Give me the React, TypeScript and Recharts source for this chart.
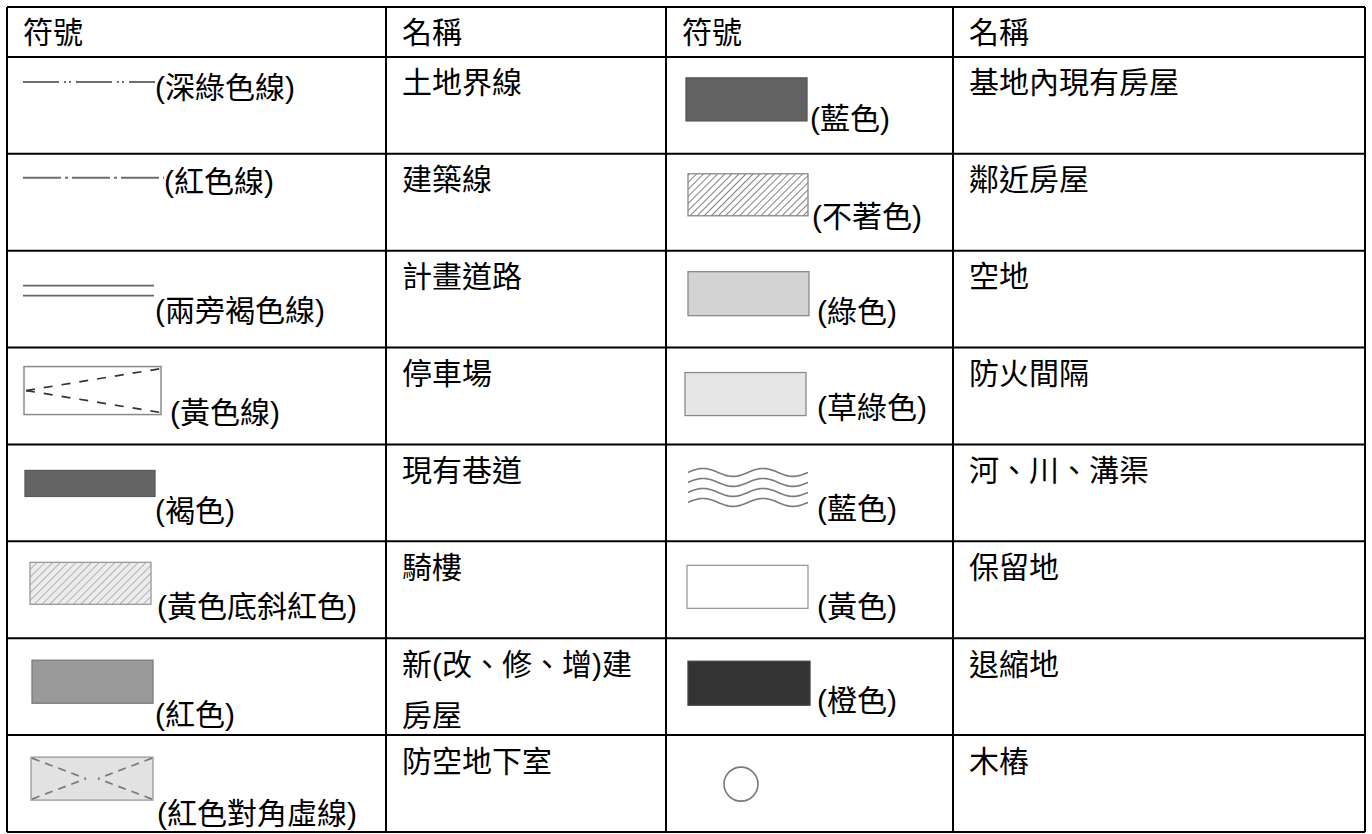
import React from 'react';
import { ScatterChart, Scatter, XAxis, YAxis, ReferenceLine } from 'recharts';

// table content
const headers = ['符號', '名稱', '符號', '名稱'];

const leftKinds = ['dashDotDot', 'dashDot', 'double', 'parking', 'bar', 'hatchLight', 'rectRed', 'crossDash'];
const leftNotes = ['(深綠色線)', '(紅色線)', '(兩旁褐色線)', '(黃色線)', '(褐色)', '(黃色底斜紅色)', '(紅色)', '(紅色對角虛線)'];
const leftNames = ['土地界線', '建築線', '計畫道路', '停車場', '現有巷道', '騎樓', '新(改、修、增)建\n房屋', '防空地下室'];

const rightKinds = ['rectBlue', 'hatchDark', 'rectGreen', 'rectGrass', 'waves', 'rectYellow', 'rectOrange', 'circle'];
const rightNotes = ['(藍色)', '(不著色)', '(綠色)', '(草綠色)', '(藍色)', '(黃色)', '(橙色)', ''];
const rightNames = ['基地內現有房屋', '鄰近房屋', '空地', '防火間隔', '河、川、溝渠', '保留地', '退縮地', '木樁'];

// layout
const W = 1372;
const H = 834;
const COL_EDGES = [0, 379, 659, 946, 1358];
const HEADER_ROWS = 0.515;
const ROWS = leftKinds.length;
const FONT = "'Liberation Sans', 'Noto Sans CJK TC', sans-serif";
const FS = 30;

type Geo = { x: number; y: number; w: number; h: number; nx: number; ny: number };
const GEO: Record<string, Geo> = {
  dashDotDot: { x: 16, y: 25, w: 132, h: 0, nx: 148, ny: 31 },
  dashDot: { x: 16, y: 24, w: 141, h: 0, nx: 157, ny: 28 },
  double: { x: 16, y: 35, w: 131, h: 10, nx: 148, ny: 60 },
  parking: { x: 17, y: 19, w: 137, h: 48, nx: 163, ny: 65 },
  bar: { x: 18, y: 26, w: 130, h: 26, nx: 148, ny: 66 },
  hatchLight: { x: 23, y: 21, w: 121, h: 42, nx: 150, ny: 65 },
  rectRed: { x: 25, y: 22, w: 121, h: 43, nx: 148, ny: 76 },
  crossDash: { x: 24, y: 22, w: 122, h: 43, nx: 150, ny: 78 },
  rectBlue: { x: 20, y: 21, w: 121, h: 43, nx: 144, ny: 62 },
  hatchDark: { x: 22, y: 20, w: 120, h: 42, nx: 146, ny: 63 },
  rectGreen: { x: 22, y: 21, w: 121, h: 44, nx: 151, ny: 61 },
  rectGrass: { x: 19, y: 25, w: 121, h: 43, nx: 151, ny: 60 },
  waves: { x: 22, y: 22, w: 121, h: 39, nx: 151, ny: 64 },
  rectYellow: { x: 21, y: 24, w: 121, h: 43, nx: 151, ny: 65 },
  rectOrange: { x: 22, y: 23, w: 122, h: 44, nx: 151, ny: 62 },
  circle: { x: 58, y: 32, w: 34, h: 34, nx: 0, ny: 0 },
};

const FILLS: Record<string, { fill: string; stroke: string }> = {
  bar: { fill: '#646464', stroke: '#5a5a5a' },
  rectRed: { fill: '#9a9a9a', stroke: '#7a7a7a' },
  rectBlue: { fill: '#626262', stroke: '#555' },
  rectGreen: { fill: '#d3d3d3', stroke: '#8a8a8a' },
  rectGrass: { fill: '#e6e6e6', stroke: '#8a8a8a' },
  rectYellow: { fill: '#ffffff', stroke: '#9a9a9a' },
  rectOrange: { fill: '#333333', stroke: '#444' },
};

const headerData = headers.map((text, i) => ({ x: COL_EDGES[i], y: -HEADER_ROWS, text }));
const symbolData = [
  ...leftKinds.map((kind, i) => ({ x: COL_EDGES[0], y: i, kind, note: leftNotes[i] })),
  ...rightKinds.map((kind, i) => ({ x: COL_EDGES[2], y: i, kind, note: rightNotes[i] })),
];
const nameData = [
  ...leftNames.map((text, i) => ({ x: COL_EDGES[1], y: i, text })),
  ...rightNames.map((text, i) => ({ x: COL_EDGES[3], y: i, text })),
];

const wavePath = (x: number, y: number, w: number) => {
  let d = '';
  for (let t = 0; t <= w; t += 2) {
    const yy = y - 4 * Math.sin((2 * Math.PI * t) / 60);
    d += (t === 0 ? 'M' : 'L') + (x + t).toFixed(1) + ',' + yy.toFixed(1);
  }
  return d;
};

const HeaderShape = (props: any) => {
  const { cx, cy, payload } = props;
  return (
    <text x={cx + 16} y={cy + 25} fontSize={FS} fontFamily={FONT} fill="#000" dominantBaseline="central">
      {payload.text}
    </text>
  );
};

const NameShape = (props: any) => {
  const { cx, cy, payload } = props;
  const lines = String(payload.text).split('\n');
  return (
    <g>
      {lines.map((ln, i) => (
        <text key={i} x={cx + 16} y={cy + 26 + i * 51} fontSize={FS} fontFamily={FONT} fill="#000" dominantBaseline="central">
          {ln}
        </text>
      ))}
    </g>
  );
};

const SymbolShape = (props: any) => {
  const { cx, cy, payload } = props;
  const g = GEO[payload.kind];
  const x = cx + g.x;
  const y = cy + g.y;
  let mark: React.ReactNode = null;

  switch (payload.kind) {
    case 'dashDotDot':
      mark = <line x1={x} y1={y} x2={x + g.w} y2={y} stroke="#6e6e6e" strokeWidth={2} strokeDasharray="36 5 2 3 2 5" />;
      break;
    case 'dashDot':
      mark = <line x1={x} y1={y} x2={x + g.w} y2={y} stroke="#6e6e6e" strokeWidth={2} strokeDasharray="38 4 3 4" />;
      break;
    case 'double':
      mark = (
        <g stroke="#666" strokeWidth={1.6}>
          <line x1={x} y1={y} x2={x + g.w} y2={y} />
          <line x1={x} y1={y + g.h} x2={x + g.w} y2={y + g.h} />
        </g>
      );
      break;
    case 'parking':
      mark = (
        <g>
          <rect x={x} y={y} width={g.w} height={g.h} fill="#fff" stroke="#8a8a8a" strokeWidth={1.5} />
          <g stroke="#333" strokeWidth={1.7} strokeDasharray="9 9">
            <line x1={x + 2} y1={y + g.h / 2} x2={x + g.w} y2={y + 2} />
            <line x1={x + 2} y1={y + g.h / 2} x2={x + g.w} y2={y + g.h - 2} />
          </g>
        </g>
      );
      break;
    case 'hatchLight':
    case 'hatchDark': {
      const dark = payload.kind === 'hatchDark';
      const id = 'hatch-' + payload.kind;
      const s = dark ? 5 : 5.5;
      mark = (
        <g>
          <defs>
            <pattern id={id} patternUnits="userSpaceOnUse" width={s} height={s} patternTransform="rotate(45)">
              <rect width={s} height={s} fill={dark ? '#fff' : '#ececec'} />
              <line x1={0} y1={0} x2={0} y2={s} stroke={dark ? '#555' : '#8c8c8c'} strokeWidth={dark ? 1.5 : 1.2} />
            </pattern>
          </defs>
          <rect x={x} y={y} width={g.w} height={g.h} fill={`url(#${id})`} stroke={dark ? '#888' : '#999'} strokeWidth={1.3} />
        </g>
      );
      break;
    }
    case 'crossDash': {
      const mx = x + g.w / 2;
      const my = y + g.h / 2;
      mark = (
        <g>
          <rect x={x} y={y} width={g.w} height={g.h} fill="#e2e2e2" stroke="#999" strokeWidth={1.3} />
          <g stroke="#7a7a7a" strokeWidth={1.7} strokeDasharray="8 6">
            <line x1={x + 1} y1={y + 1} x2={mx - 6} y2={my} />
            <line x1={x + 1} y1={y + g.h - 1} x2={mx - 6} y2={my} />
            <line x1={x + g.w - 1} y1={y + 1} x2={mx + 6} y2={my} />
            <line x1={x + g.w - 1} y1={y + g.h - 1} x2={mx + 6} y2={my} />
          </g>
        </g>
      );
      break;
    }
    case 'waves':
      mark = (
        <g fill="none" stroke="#7a7a7a" strokeWidth={1.6}>
          {[0, 1, 2, 3].map((k) => (
            <path key={k} d={wavePath(x, y + 6 + k * 10, g.w)} />
          ))}
        </g>
      );
      break;
    case 'circle':
      mark = <circle cx={x + g.w / 2} cy={y + g.h / 2} r={g.w / 2} fill="none" stroke="#7a7a7a" strokeWidth={1.6} />;
      break;
    default: {
      const f = FILLS[payload.kind];
      mark = <rect x={x} y={y} width={g.w} height={g.h} fill={f.fill} stroke={f.stroke} strokeWidth={1.3} />;
    }
  }

  return (
    <g>
      {mark}
      {payload.note ? (
        <text x={cx + g.nx} y={cy + g.ny} fontSize={FS} fontFamily={FONT} fill="#000" dominantBaseline="central">
          {payload.note}
        </text>
      ) : null}
    </g>
  );
};

const rowLines = [-HEADER_ROWS, ...Array.from({ length: ROWS + 1 }, (_, i) => i)];

export default function App() {
  return (
    <div style={{ position: 'absolute', left: 0, top: 0, background: '#fff' }}>
      <ScatterChart width={W} height={H} margin={{ top: 7, right: 7, bottom: 2, left: 7 }}>
        <XAxis type="number" dataKey="x" domain={[0, COL_EDGES[COL_EDGES.length - 1]]} allowDataOverflow hide />
        <YAxis type="number" dataKey="y" domain={[-HEADER_ROWS, ROWS]} allowDataOverflow reversed hide />
        <Scatter data={symbolData} shape={<SymbolShape />} isAnimationActive={false} />
        <Scatter data={nameData} shape={<NameShape />} isAnimationActive={false} />
        <Scatter data={headerData} shape={<HeaderShape />} isAnimationActive={false} />
        {rowLines.map((v) => (
          <ReferenceLine key={'r' + v} y={v} stroke="#000" strokeWidth={2} ifOverflow="visible" />
        ))}
        {COL_EDGES.map((e) => (
          <ReferenceLine key={'c' + e} x={e} stroke="#000" strokeWidth={2} ifOverflow="visible" />
        ))}
      </ScatterChart>
    </div>
  );
}
